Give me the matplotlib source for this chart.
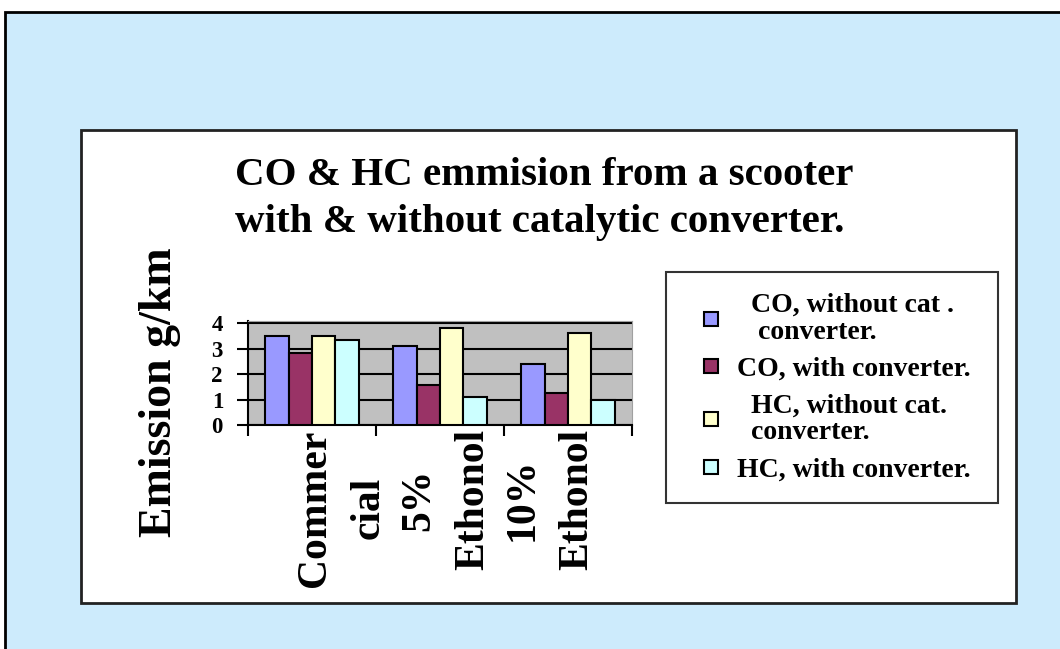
import numpy as np
import matplotlib.pyplot as plt
import matplotlib.transforms as mtrans
from matplotlib.patches import Rectangle
from matplotlib.lines import Line2D

# data
categories = ['Commer\ncial', '5%\nEthonol', '10%\nEthonol']
series_names = ['  CO, without cat .\n   converter.',
                'CO, with converter. ',
                '  HC, without cat.\n  converter.',
                'HC, with converter. ']
co_without = [3.48, 3.09, 2.41]
co_with = [2.83, 1.56, 1.24]
hc_without = [3.48, 3.82, 3.60]
hc_with = [3.35, 1.11, 0.98]
series_colors = ['#9999ff', '#993366', '#ffffcc', '#ccffff']

plt.rcParams['font.family'] = ['Liberation Serif', 'DejaVu Serif']
plt.rcParams['font.weight'] = 'bold'

fig = plt.figure(figsize=(10.6, 6.49), dpi=100)
W, H = 1060, 649

def fx(px):
    return px / W

def fy(py):
    return 1 - py / H

# outer light blue panel and inner white chart box
fig.patches.append(Rectangle((fx(5), fy(700)), fx(1100), 688 / H, transform=fig.transFigure,
                             facecolor='#cdebfc', edgecolor='black', lw=2, zorder=0))
fig.patches.append(Rectangle((fx(81), fy(603)), (1016 - 81) / W, (603 - 130) / H,
                             transform=fig.transFigure, facecolor='white',
                             edgecolor='#222222', lw=2, zorder=1))

ax = fig.add_axes([fx(248), fy(425), (632 - 248) / W, (425 - 321) / H])
ax.set_facecolor('#c0c0c0')
ax.set_zorder(2)

x = np.arange(len(categories))
w = 1 / 5.5
data = [co_without, co_with, hc_without, hc_with]
for i, (vals, col) in enumerate(zip(data, series_colors)):
    ax.bar(x + (i - 1.5) * w, vals, w, color=col, edgecolor='black', lw=1.5, zorder=3)

ax.set_xlim(-0.5, len(categories) - 0.5)
ax.set_ylim(0, 4.08)
ax.set_yticks([0, 1, 2, 3, 4])
ax.yaxis.grid(True, color='black', lw=1.5, zorder=1)
ax.set_axisbelow(True)
for s in ['top', 'right']:
    ax.spines[s].set_color('#a0a0a0')
for s in ['left', 'bottom']:
    ax.spines[s].set_linewidth(1.5)

ax.set_xticks(x)
ax.set_xticklabels(categories, rotation=90, fontsize=30, va='top', ha='center',
                   multialignment='center', linespacing=1.55)
ax.tick_params(axis='x', length=0, pad=3)
ax.set_xticks(np.arange(len(categories) + 1) - 0.5, minor=True)
ax.tick_params(axis='x', which='minor', length=8, width=1.5, direction='out')
# the original label blocks sit a little off the group centres
shifts_px = [30, 6, -18]
for lab, dx in zip(ax.get_xticklabels(), shifts_px):
    lab.set_transform(lab.get_transform() +
                      mtrans.ScaledTranslation(dx / 100, 0, fig.dpi_scale_trans))
ax.tick_params(axis='y', labelsize=16.5, length=8, width=1.5, pad=10)
for t in ax.get_yticklabels():
    t.set_fontweight('bold')

fig.text(fx(160), fy(392), 'Emission g/km', rotation=90, fontsize=33,
         ha='center', va='center', zorder=5)
fig.text(fx(235), fy(157), 'CO & HC emmision from a scooter\nwith & without catalytic converter.',
         fontsize=29.5, ha='left', va='top', linespacing=1.35, zorder=5)

handles = [Line2D([], [], ls='none', marker='s', markersize=10.5, markerfacecolor=c,
                  markeredgecolor='black', markeredgewidth=1.5) for c in series_colors]
leg = fig.legend(handles, series_names, loc='upper left', bbox_to_anchor=(fx(666), fy(272)),
                 borderaxespad=0, fontsize=20, frameon=True, fancybox=False,
                 edgecolor='black', handlelength=1.75, labelspacing=0.42,
                 borderpad=0.75, handletextpad=0.05)
leg.get_frame().set_linewidth(1.5)
for t in leg.get_texts():
    t.set_linespacing(1.1)
leg.set_zorder(5)

fig.savefig('out.png', dpi=100)
